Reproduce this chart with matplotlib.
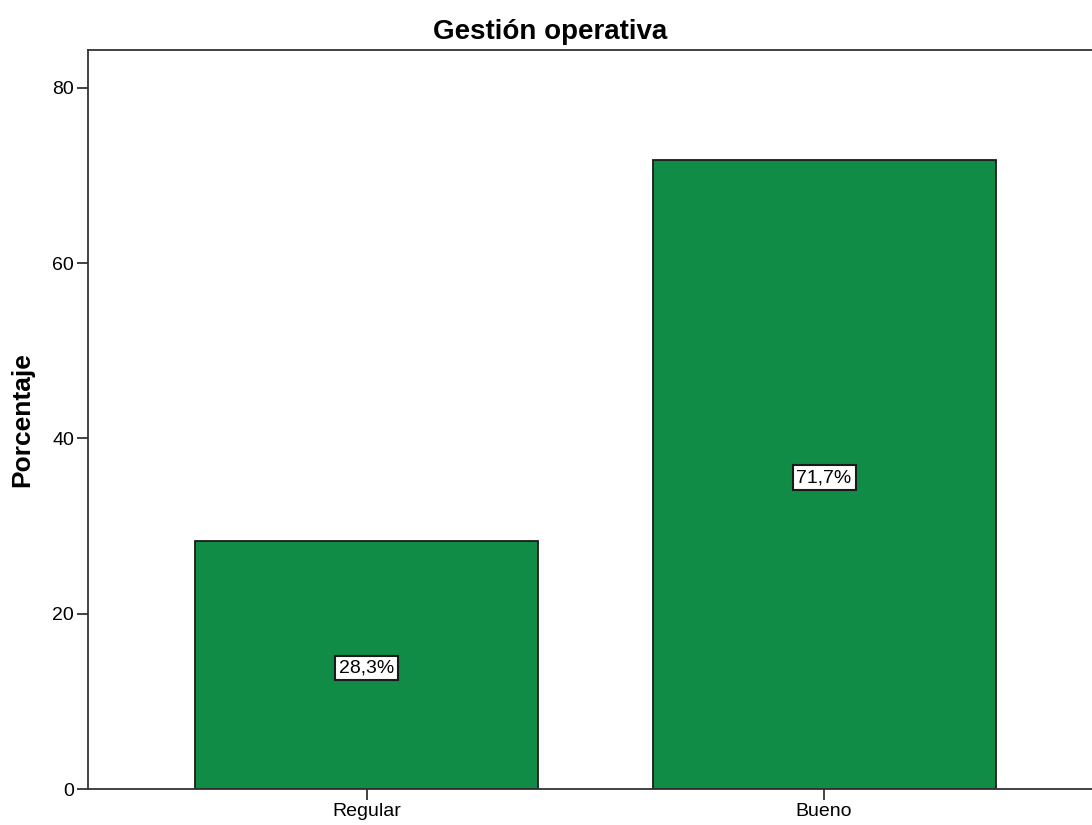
import matplotlib.pyplot as plt

categories = ['Regular', 'Bueno']
percentages = [28.3, 71.7]
bar_labels = ['28,3%', '71,7%']

plt.rcParams['font.family'] = ['Liberation Sans', 'DejaVu Sans']

fig = plt.figure(figsize=(10.92, 8.25), dpi=100)
ax = fig.add_axes([88 / 1092, 36 / 825, 1015 / 1092, 739 / 825])

x = range(len(categories))
bars = ax.bar(x, percentages, width=0.75, color='#118C46', edgecolor='#1a1a1a', linewidth=1.3)

for b, lab in zip(bars, bar_labels):
    ax.text(b.get_x() + b.get_width() / 2, b.get_height() / 2 - 0.35, lab,
            ha='center', va='center', fontsize=14,
            bbox=dict(boxstyle='square,pad=0.2', facecolor='white', edgecolor='#1a1a1a', linewidth=1.5))

ax.set_xlim(-0.61, 1.61)
ax.set_ylim(0, 84.3)
ax.set_xticks(list(x))
ax.set_xticklabels(categories)
ax.set_yticks([0, 20, 40, 60, 80])
ax.tick_params(axis='both', length=8, width=1.3, color='#333333', labelsize=14, pad=2)
for s in ax.spines.values():
    s.set_linewidth(1.3)
    s.set_color('#333333')

ax.set_ylabel('Porcentaje', fontsize=19, fontweight='bold')
ax.yaxis.set_label_coords(-0.053, 0.5)
fig.text(550 / 1092, 1 - 32 / 825, 'Gestión operativa', ha='center', va='center',
         fontsize=20, fontweight='bold')

fig.savefig('out.png', dpi=100)
